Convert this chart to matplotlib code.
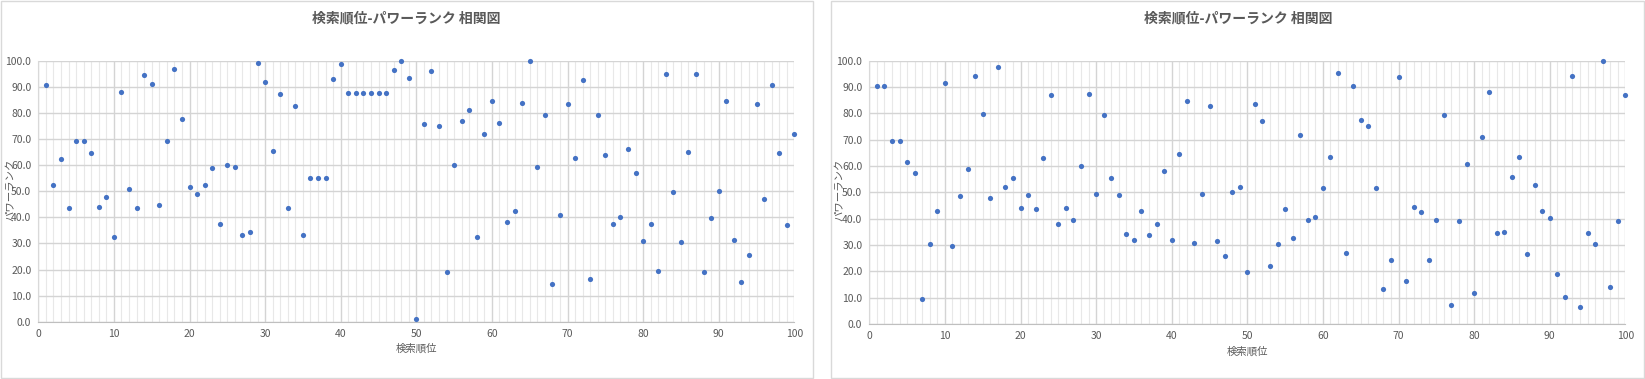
import matplotlib.pyplot as plt
from matplotlib.patches import Rectangle
from matplotlib.ticker import MultipleLocator, FormatStrFormatter

plt.rcParams['font.family'] = ['Noto Sans CJK JP', 'DejaVu Sans']

# 検索順位 (x) for both charts
rank = list(range(1, 101))

# left chart: パワーランク
power_left = [
    90.5, 52.2, 62.2, 43.4, 69.1, 69.1, 64.5, 43.8, 47.6, 32.3,
    87.9, 50.7, 43.4, 94.4, 90.9, 44.6, 69.1, 96.7, 77.5, 51.5,
    48.8, 52.2, 58.7, 37.3, 59.9, 59.1, 33.1, 34.2, 99.0, 91.7,
    65.3, 87.1, 43.4, 82.5, 33.1, 54.9, 54.9, 54.9, 92.8, 98.6,
    87.5, 87.5, 87.5, 87.5, 87.5, 87.5, 96.3, 100.0, 93.2, 0.9,
    75.6, 95.9, 74.8, 18.9, 59.9, 76.8, 81.0, 32.3, 71.8, 84.4,
    76.0, 38.1, 42.3, 83.7, 99.7, 59.1, 79.1, 14.3, 40.7, 83.3,
    62.6, 92.5, 16.2, 79.1, 63.7, 37.3, 40.0, 66.0, 56.8, 30.8,
    37.3, 19.3, 94.8, 49.6, 30.4, 64.9, 94.8, 18.9, 39.6, 49.9,
    84.4, 31.2, 15.1, 25.4, 83.3, 46.9, 90.5, 64.5, 36.9, 71.8,
]

# right chart: パワーランク
power_right = [
    90.3, 90.3, 69.4, 69.4, 61.4, 57.2, 9.4, 30.3, 42.8, 91.4,
    29.5, 48.5, 58.7, 94.1, 79.6, 47.7, 97.5, 51.9, 55.3, 43.9,
    48.9, 43.5, 62.9, 86.8, 37.8, 43.9, 39.4, 59.9, 87.2, 49.2,
    79.2, 55.3, 48.9, 34.1, 31.8, 42.8, 33.7, 37.8, 58.0, 31.8,
    64.4, 84.6, 30.6, 49.2, 82.7, 31.4, 25.7, 50.0, 51.9, 19.6,
    83.4, 77.0, 21.9, 30.3, 43.5, 32.5, 71.6, 39.4, 40.5, 51.5,
    63.3, 95.2, 26.8, 90.3, 77.3, 75.1, 51.5, 13.2, 24.2, 93.7,
    16.2, 44.3, 42.4, 24.2, 39.4, 79.2, 7.1, 39.0, 60.6, 11.6,
    70.9, 88.0, 34.4, 34.8, 55.7, 63.3, 26.5, 52.7, 42.8, 40.1,
    18.9, 10.1, 94.1, 6.3, 34.4, 30.3, 99.7, 13.9, 39.0, 86.8,
]

title = '検索順位-パワーランク 相関図'
xlabel = '検索順位'
ylabel = 'パワーランク'

W, H = 1645, 379
fig = plt.figure(figsize=(W / 100, H / 100), dpi=100)


def px_axes(x0, y0, x1, y1):
    # pixel box (top-left origin) -> figure axes
    return fig.add_axes([x0 / W, 1 - y1 / H, (x1 - x0) / W, (y1 - y0) / H])


def panel_box(x0, y0, x1, y1):
    fig.patches.append(Rectangle((x0 / W, 1 - y1 / H), (x1 - x0) / W, (y1 - y0) / H,
                                 transform=fig.transFigure, fill=False,
                                 edgecolor='#d9d9d9', linewidth=1))


def draw(ax, y, cx, tx, ty_lab, lx):
    ax.scatter(rank, y, s=14, color='#4472C4', zorder=3, linewidths=0, clip_on=False)
    ax.set_xlim(0, 100)
    ax.set_ylim(0, 100)
    ax.xaxis.set_major_locator(MultipleLocator(10))
    ax.xaxis.set_minor_locator(MultipleLocator(1))
    ax.yaxis.set_major_locator(MultipleLocator(10))
    ax.yaxis.set_major_formatter(FormatStrFormatter('%.1f'))
    ax.grid(which='major', color='#d4d4d4', linewidth=1)
    ax.grid(which='minor', axis='x', color='#e8e8e8', linewidth=0.8)
    ax.set_axisbelow(True)
    for s in ['top', 'right']:
        ax.spines[s].set_visible(False)
    ax.spines['bottom'].set_color('#bfbfbf')
    ax.spines['left'].set_color('#d9d9d9')
    ax.tick_params(which='both', length=0, labelsize=7.5, colors='#595959', pad=5)
    fig.text(cx / W, 1 - 18 / H, title, ha='center', va='center',
             fontsize=10, fontweight='bold', color='#595959')
    fig.text(tx / W, 1 - ty_lab / H, xlabel, ha='center', va='center',
             fontsize=7.5, color='#595959')
    fig.text(lx / W, 1 - 190 / H, ylabel, ha='center', va='center',
             rotation=90, fontsize=7.5, color='#595959')


panel_box(0.5, 0.5, 813, 378)
panel_box(831, 0.5, 1644, 378)

ax1 = px_axes(38.3, 60.7, 794.3, 321.7)
draw(ax1, power_left, 406, 416, 349, 11)

ax2 = px_axes(869.3, 60.7, 1625.3, 324)
draw(ax2, power_right, 1238, 1247, 352, 840)

fig.savefig('out.png', dpi=100)
